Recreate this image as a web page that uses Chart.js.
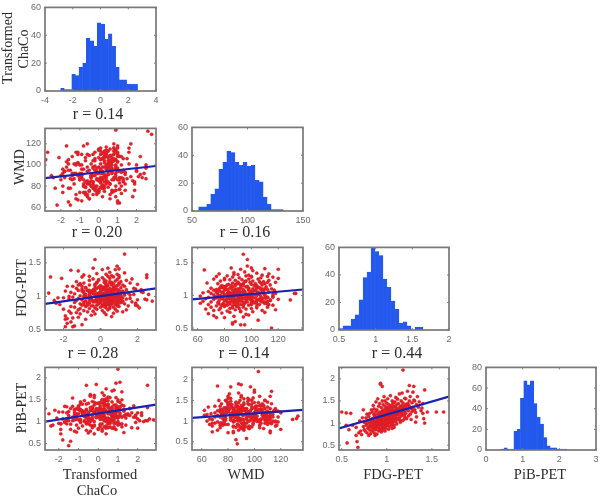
<!DOCTYPE html>
<html>
<head>
<meta charset="utf-8">
<script src="https://cdn.jsdelivr.net/npm/chart.js@4"></script>
<style>
html,body{margin:0;padding:0;background:#fff;}
#wrap{position:relative;width:600px;height:497px;overflow:hidden;filter:blur(0.45px);}
canvas{position:absolute;}
.lab{position:absolute;font-family:"Liberation Serif",serif;color:#2e2e2e;white-space:nowrap;transform:translate(-50%,-50%);}
.rot{transform:translate(-50%,-50%) rotate(-90deg);}
</style>
</head>
<body>
<div id="wrap"></div>
<script>
// values, one column per measure, same subject order
var chaco = [
0.0,-1.4,-1.9,-1.5,-1.0,-1.8,-1.6,-1.9,-0.8,-1.8,-1.5,-1.2,0.6,-1.9,-0.5,0.3,-1.1,-0.3,0.7,-1.6,
-1.3,0.2,-0.7,1.2,-0.4,0.9,-1.7,0.1,-0.9,0.4,-1.2,1.4,-0.2,0.8,-2.0,-0.6,0.5,-1.1,0.3,2.1,
-0.3,0.7,-1.4,0.0,1.0,-0.8,0.5,-1.6,0.2,1.5,-0.5,0.9,-1.0,0.3,1.9,-0.2,0.6,-2.2,0.1,-0.7,
0.4,-1.1,0.8,-0.1,1.3,-0.6,0.2,-2.4,0.6,-0.9,0.0,1.1,0.4,-1.4,0.7,-0.4,1.7,-0.2,0.9,1.1,
0.9,0.3,-0.8,1.2,-0.3,0.6,-1.3,0.1,-0.6,2.5,0.5,1.0,-1.0,0.2,-1.7,0.8,0.0,0.4,-0.5,1.4,
0.7,-0.2,1.6,-1.2,0.3,0.0,0.9,-0.7,0.5,-2.0,1.2,0.4,-0.5,0.8,0.1,-1.5,0.6,-0.1,1.1,-0.9,
0.2,1.0,-0.6,0.5,-1.1,0.9,0.3,-0.3,1.3,0.0,0.7,-0.8,0.4,1.8,-0.2,0.6,-1.4,0.1,1.0,-0.4,
0.8,0.2,-0.9,1.5,0.5,-0.1,0.9,0.3,-1.6,0.6,1.1,-0.5,0.0,0.7,2.2,-1.0,0.4,1.2,-0.3,0.6,
1.0,-0.7,0.4,-1.2,0.8,0.1,1.4,-0.4,0.6,1.9,0.0,0.9,-0.2,-1.3,0.5,0.3,1.1,-0.8,0.7,0.2,
-0.1,0.8,1.3,-1.5,0.4,0.9,0.0,-0.6,0.6,1.2,1.0,0.3,2.0,-0.3,0.7,-1.1,0.5,1.0,-0.9,0.2,
0.6,-0.2,1.1,-1.3,0.3,0.8,-0.6,1.4,-0.1,0.9,0.2,1.7,-0.4,0.5,-2.1,1.0,0.1,0.7,-1.0,0.4,
-0.6,0.6,1.0,-0.9,0.3,0.9,-0.2,1.3,0.5,-1.2,-1.6,0.8,0.1,1.0,0.4,-0.4,0.9,-0.3,1.3,-2.7,
-2.8,0.9,2.8,2.6,2.5,2.5,2.4,1.6,-2.5,1.8,2.3,-2.3,-1.8,2.0,1.6,-1.9,1.9,-1.7,2.2,2.0,
-0.5,0.2,0.8,-0.9,0.5,0.0,-0.3,1.0,0.6,-0.7,0.3,-0.1,0.9,-0.4,0.1,0.7,-1.1,0.4,-0.6,0.2,
0.5,-0.8,0.1,1.1,-0.2,0.6,-0.5,0.3,0.9,-1.0,0.0,0.7,-0.3,0.4,1.2,-0.7,0.2,-0.4,0.8,0.1,
-0.6,0.3,1.0,-0.2,0.5,-0.9,0.1,0.7,-0.4,0.6,0.0,-1.2,0.4,0.9,-0.1,0.2,-0.7,1.1,0.3,-0.5,
0.7,-0.3,0.0,0.5,-0.8,1.3,0.2,-0.1,0.8,-0.6,0.4,0.1,-1.0,0.6,-0.2,1.0,0.3,-0.5,0.5,0.0
];
var wmd = [
115,86,92,95,86,88,105,80,74,94,87,72,98,96,68,78,110,84,92,101,
82,92,72,108,88,76,118,96,66,84,100,91,77,104,86,70,94,112,80,89,
104,74,90,86,116,82,98,78,92,106,68,88,100,84,76,112,95,62,87,79,
90,102,75,94,84,110,70,88,82,96,107,64,86,92,76,101,89,80,114,88,
90,108,80,93,72,99,87,105,120,97,84,66,91,78,103,86,74,110,95,82,
93,76,101,68,112,85,96,79,107,90,73,98,83,116,88,62,104,92,77,100,
86,110,72,94,102,80,91,84,106,75,97,118,88,70,99,82,108,95,64,90,
105,78,92,87,113,74,100,89,95,68,83,109,76,103,91,86,117,80,98,72,
94,107,82,112,88,101,76,90,115,84,98,70,106,92,79,111,86,96,103,81,
97,104,85,78,108,92,114,83,100,88,103,75,94,110,86,67,99,118,90,106,
109,95,77,101,88,113,84,93,72,105,98,120,80,91,107,86,116,100,74,96,
82,98,108,90,113,76,104,87,95,101,65,120,92,110,100,85,97,97,94,112,
105,133,129,132,100,87,92,116,90,85,88,78,94,100,112,74,82,98,108,95,
82,106,110,88,104,92,78,112,108,84,102,86,105,80,110,96,90,114,94,88,
100,80,84,108,90,104,76,98,112,92,86,106,82,110,100,74,94,88,116,79,
85,108,103,78,96,110,83,105,89,101,76,92,112,99,87,81,104,94,107,83,
109,90,77,102,86,95,111,80,106,98,84,113,88,100,79,97,104,75,91,86
];
var fdg = [
0.50,0.56,0.55,0.55,0.58,0.60,0.62,0.66,0.66,0.67,0.68,0.69,0.70,0.71,0.72,0.73,0.74,0.74,0.75,0.75,
0.76,0.76,0.77,0.77,0.78,0.78,0.78,0.79,0.79,0.80,0.80,0.80,0.81,0.81,0.81,0.82,0.82,0.82,0.83,0.83,
0.83,0.84,0.84,0.84,0.85,0.85,0.85,0.85,0.86,0.86,0.86,0.86,0.87,0.87,0.87,0.87,0.88,0.88,0.88,0.88,
0.88,0.89,0.89,0.89,0.89,0.90,0.90,0.90,0.90,0.91,0.91,0.91,0.91,0.91,0.92,0.92,0.92,0.92,0.92,0.93,
0.93,0.93,0.93,0.93,0.94,0.94,0.94,0.94,0.94,0.95,0.95,0.95,0.95,0.95,0.96,0.96,0.96,0.96,0.96,0.96,
0.97,0.97,0.97,0.97,0.97,0.98,0.98,0.98,0.98,0.98,0.98,0.99,0.99,0.99,0.99,0.99,1.00,1.00,1.00,1.00,
1.00,1.01,1.01,1.01,1.01,1.01,1.02,1.02,1.02,1.02,1.02,1.03,1.03,1.03,1.03,1.03,1.04,1.04,1.04,1.04,
1.04,1.05,1.05,1.05,1.05,1.05,1.06,1.06,1.06,1.06,1.06,1.07,1.07,1.07,1.07,1.08,1.08,1.08,1.08,1.08,
1.09,1.09,1.09,1.09,1.10,1.10,1.10,1.10,1.10,1.11,1.11,1.11,1.12,1.12,1.12,1.13,1.13,1.13,1.14,1.14,
1.14,1.15,1.15,1.15,1.16,1.16,1.16,1.17,1.17,1.17,1.18,1.18,1.18,1.18,1.19,1.19,1.20,1.20,1.20,1.21,
1.21,1.21,1.22,1.22,1.23,1.23,1.24,1.24,1.25,1.25,1.25,1.26,1.26,1.27,1.27,1.28,1.28,1.29,1.29,1.30,
1.30,1.31,1.31,1.32,1.33,1.33,1.34,1.35,1.36,1.38,1.39,1.40,1.40,1.41,1.42,1.42,1.45,1.55,1.63,1.29,
1.05,1.03,0.93,1.03,1.28,1.32,0.96,1.02,0.94,1.12,1.06,0.98,1.15,0.86,1.20,1.08,0.90,1.00,1.10,0.95,
0.95,1.02,0.88,1.08,0.92,1.00,1.12,0.97,1.05,0.90,1.15,0.94,1.03,0.86,1.10,0.99,1.18,0.93,1.06,1.01,
0.89,1.13,1.04,0.96,1.20,0.91,1.07,0.98,0.87,1.11,1.02,0.94,1.16,1.00,0.92,1.09,0.85,1.05,0.97,1.14,
1.03,0.90,1.08,0.96,1.22,0.88,1.01,1.12,0.93,1.06,0.99,1.17,0.91,1.04,0.95,1.10,0.87,1.02,1.19,0.98,
1.07,0.92,1.13,0.89,1.00,1.05,0.96,1.24,0.94,1.09,1.01,0.86,1.15,0.97,1.04,0.90,1.11,0.99,1.06,0.93
];
var pib = [
1.25,0.55,0.95,1.23,0.85,1.22,0.95,0.72,0.90,0.58,0.45,0.78,1.05,0.82,0.74,1.12,0.92,1.30,0.85,1.02,
1.02,0.82,1.12,0.95,0.78,1.20,0.98,0.88,1.05,0.72,1.15,0.92,1.00,0.84,1.22,0.95,1.08,0.76,1.30,1.02,
0.90,1.10,0.82,1.25,0.98,1.40,0.86,1.06,0.78,1.18,0.95,1.32,1.04,0.88,1.15,0.72,1.00,1.26,0.92,1.48,
0.85,1.12,0.96,1.30,0.75,1.08,1.20,0.90,1.55,1.00,0.82,1.16,1.38,0.94,1.06,1.25,0.86,1.44,1.10,1.90,
1.88,1.02,1.22,0.88,1.14,0.96,1.35,1.05,0.80,1.83,1.18,0.92,1.28,1.50,1.00,1.12,0.84,1.24,1.42,1.08,
1.16,0.90,1.30,1.04,1.60,1.10,0.82,1.22,1.38,0.96,1.50,1.06,1.20,0.88,1.32,1.14,1.00,1.26,0.94,1.45,
1.10,1.34,0.98,1.20,1.05,1.55,1.16,0.86,1.28,1.42,1.02,1.24,1.08,1.36,0.92,1.18,1.30,1.12,1.00,1.62,
1.22,1.06,1.40,1.15,0.95,1.28,1.10,1.50,1.20,0.88,1.34,1.02,1.26,1.45,1.14,1.18,0.90,1.38,1.08,1.25,
1.30,1.12,1.48,1.20,1.04,1.36,1.16,1.58,1.26,0.98,1.42,1.10,1.22,1.54,1.32,1.08,1.44,1.18,1.28,1.66,
1.12,1.38,1.24,1.02,1.50,1.30,1.16,1.40,1.20,1.68,2.20,1.28,1.06,1.46,1.34,1.18,1.56,1.10,1.26,1.42,
1.22,1.55,1.32,1.10,1.44,1.72,1.28,1.16,1.85,1.38,1.50,1.20,1.60,1.34,1.08,1.46,1.26,1.70,1.36,1.52,
1.83,1.30,1.50,1.24,1.42,1.14,1.60,1.36,1.48,1.28,1.34,1.22,1.44,1.10,1.75,1.00,1.25,1.25,1.25,1.30,
1.04,1.12,1.04,1.06,1.32,1.02,1.02,1.30,1.18,1.10,1.00,0.92,1.06,1.20,1.14,0.95,1.10,1.35,1.20,0.85,
1.05,1.22,1.12,1.28,0.98,1.15,1.32,1.08,1.18,1.02,1.36,1.10,1.25,0.92,1.20,1.14,1.30,1.00,1.26,1.16,
1.06,1.24,1.30,1.12,1.38,1.02,1.20,1.08,0.96,1.28,1.18,1.14,1.34,1.04,1.10,1.22,0.95,1.32,1.00,1.26,
1.16,1.08,1.24,1.20,1.40,0.98,1.12,1.30,1.06,1.18,1.22,1.26,1.03,1.14,1.09,1.28,1.00,1.20,1.36,1.11,
1.17,1.04,1.29,0.99,1.23,1.13,1.07,1.42,1.19,1.15,1.25,0.94,1.33,1.01,1.21,1.10,1.27,1.16,1.05,1.12
];

// histogram bin centres and counts
var chacoBins = [-2.74,-2.47,-2.21,-1.94,-1.68,-1.42,-1.15,-0.89,-0.62,-0.36,-0.10,0.17,0.43,0.70,0.96,1.22,1.49,1.75,2.02,2.28,2.54];
var chacoCounts = [2,1,1,12,11,17,20,38,36,32,49,48,37,41,32,17,8,8,5,5,5];
var wmdBins = [57.8,61.5,65.1,68.7,72.4,76,79.6,83.2,86.9,90.5,94.1,97.8,101.4,105,108.7,112.3,115.9,119.5,123.2,126.8,130.4];
var wmdCounts = [3,3,5,12,16,30,35,43,42,35,33,35,32,33,22,21,10,5,1,1,1];
var fdgBins = [0.527,0.582,0.636,0.691,0.745,0.8,0.855,0.909,0.964,1.018,1.073,1.127,1.182,1.236,1.291,1.345,1.4,1.455,1.509,1.564,1.618];
var fdgCounts = [1,3,3,8,11,22,38,42,60,57,54,37,31,21,15,5,6,3,0,2,2];
var pibBins = [0.445,0.535,0.625,0.715,0.805,0.895,0.985,1.075,1.165,1.255,1.345,1.435,1.525,1.615,1.705,1.795,1.885,1.975,2.065,2.155];
var pibCounts = [1,2,1,1,18,20,50,67,63,67,45,32,25,12,4,2,2,1,1,1];

// ends of the fitted lines
var fitWmdChaco = [[-2.9,87.5],[3.03,99]];
var fitFdgChaco = [[-3,0.89],[3,1.12]];
var fitFdgWmd = [[55.8,0.94],[138.4,1.09]];
var fitPibChaco = [[-2.7,1.0],[2.93,1.39]];
var fitPibWmd = [[52.6,1.08],[136.9,1.27]];
var fitPibFdg = [[0.47,0.88],[1.69,1.6]];

var wrap = document.getElementById('wrap');

function boxPlugin(){
  return {
    id:'box',
    afterDraw:function(chart){
      var a = chart.chartArea, c = chart.ctx;
      var sx = chart.scales.x, sy = chart.scales.y;
      c.save();
      c.strokeStyle = '#808080';
      c.lineWidth = 1;
      sx.ticks.forEach(function(t){
        var p = sx.getPixelForValue(t.value);
        c.beginPath();
        c.moveTo(p,a.bottom); c.lineTo(p,a.bottom-2);
        c.moveTo(p,a.top); c.lineTo(p,a.top+2);
        c.stroke();
      });
      sy.ticks.forEach(function(t){
        var p = sy.getPixelForValue(t.value);
        c.beginPath();
        c.moveTo(a.left,p); c.lineTo(a.left+2,p);
        c.moveTo(a.right,p); c.lineTo(a.right-2,p);
        c.stroke();
      });
      c.strokeStyle = '#787878';
      c.lineWidth = 1.7;
      c.strokeRect(a.left,a.top,a.right-a.left,a.bottom-a.top);
      c.restore();
    }
  };
}

function axis(min,max,ticks,size){
  return {
    type:'linear',
    offset:false,
    min:min,
    max:max,
    afterBuildTicks:function(s){ s.ticks = ticks.map(function(v){ return {value:v}; }); },
    afterFit:function(s){ if(size.w) s.width = size.w; else s.height = size.h; },
    grid:{display:false,drawTicks:false},
    border:{display:false},
    ticks:{
      autoSkip:false,
      maxRotation:0,
      padding:4,
      color:'#6a6a6a',
      font:{family:'"Liberation Sans",Arial,sans-serif',size:9},
      callback:function(v){ return String(v); }
    }
  };
}

function panel(left,top,w,h,config,xr,yr,xt,yt){
  var cv = document.createElement('canvas');
  cv.width = w+44;
  cv.height = h+26;
  cv.style.left = (left-32)+'px';
  cv.style.top = (top-6)+'px';
  wrap.appendChild(cv);
  config.options = {
    responsive:false,
    animation:false,
    layout:{padding:{top:6,right:12}},
    plugins:{legend:{display:false},tooltip:{enabled:false}},
    scales:{
      x:axis(xr[0],xr[1],xt,{h:20}),
      y:axis(yr[0],yr[1],yt,{w:32})
    }
  };
  config.plugins = [boxPlugin()];
  new Chart(cv.getContext('2d'),config);
}

function hist(left,top,w,h,bins,counts,xr,yr,xt,yt){
  panel(left,top,w,h,{
    type:'bar',
    data:{datasets:[{
      data:bins.map(function(b,i){ return {x:b,y:counts[i]}; }),
      backgroundColor:'#2358ec',
      borderColor:'#2358ec',
      borderWidth:0.5,
      barPercentage:1,
      categoryPercentage:1
    }]}
  },xr,yr,xt,yt);
}

function scatter(left,top,w,h,xs,ys,fit,xr,yr,xt,yt){
  panel(left,top,w,h,{
    type:'scatter',
    data:{datasets:[
      {
        data:fit.map(function(p){ return {x:p[0],y:p[1]}; }),
        showLine:true,
        borderColor:'#1a22b0',
        borderWidth:2.2,
        pointRadius:0
      },
      {
        data:xs.map(function(v,i){ return {x:v,y:ys[i]}; }),
        pointRadius:1.6,
        pointBackgroundColor:'#ea1c24',
        pointBorderColor:'#c8242c',
        pointBorderWidth:0.4
      }
    ]}
  },xr,yr,xt,yt);
}

var cx3 = [-2,-1,0,1,2], cx2 = [-2,0,2], wx = [60,80,100,120];
var f3 = [0.5,1,1.5], p4 = [0.5,1,1.5,2];

hist(45,4,111,87,chacoBins,chacoCounts,[-4,4],[0,60],[-4,-2,0,2,4],[0,20,40,60]);
scatter(45,125,111,86,chaco,wmd,fitWmdChaco,[-2.84,3.03],[56.4,134.6],cx3,[60,80,100,120]);
hist(192,124,111,87,wmdBins,wmdCounts,[50,150],[0,60],[50,100,150],[0,20,40,60]);
scatter(45,244,111,86,chaco,fdg,fitFdgChaco,[-3,3],[0.5,1.73],cx2,f3);
scatter(192,244,111,86,wmd,fdg,fitFdgWmd,[55.8,138.4],[0.47,1.735],wx,f3);
hist(339,244,110,86,fdgBins,fdgCounts,[0.5,2],[0,60],[0.5,1,1.5,2],[0,20,40,60]);
scatter(45,364,111,86,chaco,pib,fitPibChaco,[-2.7,2.93],[0.35,2.24],cx3,p4);
scatter(192,364,111,86,wmd,pib,fitPibWmd,[52.6,136.9],[0.3,2.3],wx,p4);
scatter(339,364,110,86,fdg,pib,fitPibFdg,[0.47,1.69],[0.39,2.26],f3,p4);
hist(486,364,110,86,pibBins,pibCounts,[0,3],[0,80],[0,1,2,3],[0,20,40,60,80]);

function label(text,x,y,size,rot){
  var d = document.createElement('div');
  d.className = rot ? 'lab rot' : 'lab';
  d.textContent = text;
  d.style.left = x+'px';
  d.style.top = y+'px';
  d.style.fontSize = size+'px';
  wrap.appendChild(d);
}

label('Transformed',8,48,14,true);
label('ChaCo',24,49,14,true);
label('WMD',20,167,14,true);
label('FDG-PET',22,288,14,true);
label('PiB-PET',22,408,14,true);

label('r = 0.14',98,114,16);
label('r = 0.20',97,232,16);
label('r = 0.16',245,232,16);
label('r = 0.28',93,353,16);
label('r = 0.14',244,353,16);
label('r = 0.44',397,353,16);

label('Transformed',100,474,14.5);
label('ChaCo',97,490,14.5);
label('WMD',246,474,14.5);
label('FDG-PET',393,474,14.5);
label('PiB-PET',540,474,14.5);
</script>
</body>
</html>
